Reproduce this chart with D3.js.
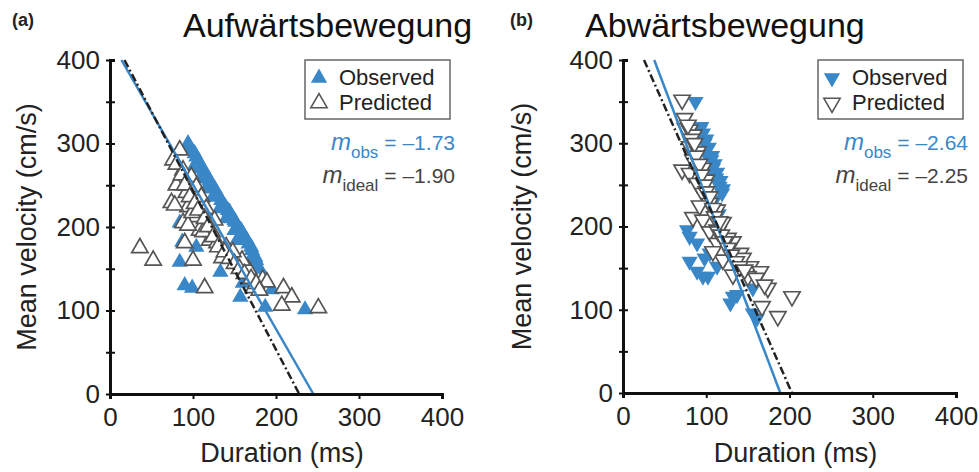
<!DOCTYPE html>
<html>
<head>
<meta charset="utf-8">
<script src="https://cdn.jsdelivr.net/npm/d3@7"></script>
<style>
  body { margin: 0; background: #fff; }
  text { font-family: "Liberation Sans", Arial, sans-serif; }
</style>
</head>
<body>
<div id="chart"></div>
<script>
"use strict";

// ---- data (duration ms, velocity cm/s) ----
var obsA_dur = [94, 98, 102, 106, 110, 114, 118, 122, 126, 130, 134, 139, 144, 147, 151, 155, 160, 163, 167, 171, 175,
  100, 108, 116, 124, 132, 140, 150, 84, 87, 84, 90, 99, 104, 133, 157, 160, 171, 187, 235, 153, 169, 195, 178, 112, 120,
  96, 104, 112, 120, 128, 136, 142, 150, 158, 165, 170, 176, 180];
var obsA_vel = [300, 292, 288, 280, 272, 266, 258, 252, 246, 238, 232, 224, 218, 212, 206, 198, 192, 186, 180, 172, 164,
  270, 258, 246, 236, 222, 210, 196, 205, 182, 158, 130, 127, 176, 146, 116, 133, 164, 104, 101, 184, 154, 125, 150, 200, 214,
  296, 284, 270, 256, 242, 228, 220, 208, 196, 184, 176, 160, 150];

var predA_dur = [84, 76, 88, 82, 92, 74, 94, 104, 108, 88, 120, 36, 52, 114, 209, 219, 207, 251, 184, 189, 173, 167, 159,
  135, 129, 123, 90, 94, 78, 99, 112, 98, 104, 110, 116, 126, 140, 148, 100, 80,
  80, 86, 90, 96, 102, 106, 114, 118, 124, 130, 138, 144, 150, 156, 162, 170, 176, 180];
var predA_vel = [292, 280, 268, 253, 241, 229, 224, 212, 196, 205, 184, 175, 160, 127, 127, 116, 106, 103, 137, 134, 127, 149, 160,
  163, 181, 194, 181, 202, 226, 217, 194, 260, 248, 236, 222, 208, 176, 170, 160, 250,
  275, 262, 250, 236, 228, 220, 210, 200, 188, 176, 170, 162, 156, 150, 144, 138, 132, 124];

var obsB_dur = [87, 92, 96, 100, 103, 107, 110, 113, 117, 120, 77, 80, 89, 80, 89, 96, 102, 98, 113, 129, 132, 137, 156, 161,
  156, 104, 98, 104, 110, 115, 94, 98, 106, 108, 112, 116, 119];
var obsB_vel = [350, 316, 312, 305, 295, 285, 275, 265, 255, 245, 196, 188, 180, 158, 146, 140, 140, 162, 152, 108, 116, 118, 126, 90,
  96, 168, 290, 262, 232, 215, 320, 300, 280, 270, 258, 248, 240];

var predB_dur = [71, 75, 80, 85, 80, 84, 71, 80, 96, 89, 96, 104, 113, 84, 96, 113, 104, 113, 132, 141, 132, 153, 165, 174,
  167, 186, 203, 144, 120, 114, 126, 90, 100, 92, 120, 108, 150,
  74, 78, 82, 86, 88, 92, 94, 98, 100, 104, 108, 110, 116, 118, 122, 126, 130, 136, 140, 146, 160, 170];
var predB_vel = [352, 318, 316, 310, 296, 280, 268, 264, 270, 252, 240, 228, 220, 211, 208, 196, 194, 180, 182, 168, 142, 152, 146, 126,
  104, 92, 116, 162, 160, 194, 186, 290, 256, 225, 205, 170, 140,
  330, 322, 305, 300, 285, 275, 262, 250, 242, 236, 222, 212, 206, 190, 182, 174, 166, 158, 152, 148, 138, 130];

// fitted lines: slope and duration at zero velocity
var panelNames = ["(a)", "(b)"];
var panelTitles = ["Aufwärtsbewegung", "Abwärtsbewegung"];
var slopeObs = [-1.73, -2.64];
var slopeIdeal = [-1.90, -2.25];
var zeroObs = [245, 189];
var zeroIdeal = [228, 203];
var slopeLabelObs = ["= \u20131.73", "= \u20132.64"];
var slopeLabelIdeal = ["= \u20131.90", "= \u20132.25"];

var axisTicks = [0, 100, 200, 300, 400];
var yMinorTicks = [0, 50, 100, 150, 200, 250, 300, 350, 400];

var blue = "#3a87c8";
var grey = "#555";

var svg = d3.select("#chart").append("svg")
  .attr("width", 979).attr("height", 472);

// panel placement (plot area in px)
var panels = [
  { left: 110, right: 442, top: 60, bottom: 394, up: true,
    obs: [obsA_dur, obsA_vel], pred: [predA_dur, predA_vel], legX: 305, ylab: 36 },
  { left: 623, right: 956, top: 60, bottom: 393, up: false,
    obs: [obsB_dur, obsB_vel], pred: [predB_dur, predB_vel], legX: 818, ylab: 531 }
];

var triUp = d3.symbol().type(d3.symbolTriangle).size(115);

panels.forEach(function (p, k) {
  var x = d3.scaleLinear().domain([0, 400]).range([p.left, p.right]);
  var y = d3.scaleLinear().domain([0, 400]).range([p.bottom, p.top]);
  var rot = p.up ? "" : " rotate(180)";
  var g = svg.append("g");

  // panel letter + title
  g.append("text").attr("x", k ? 510 : 12).attr("y", 26)
    .style("font-size", "18px").style("font-weight", "bold").style("fill", "#222")
    .text(panelNames[k]);
  g.append("text").attr("x", k ? 585 : 183).attr("y", 37)
    .style("font-size", "34px").style("fill", "#111")
    .text(panelTitles[k]);

  // observed (filled) then predicted (open)
  var obs = p.obs[0].map(function (d, i) { return [d, p.obs[1][i]]; });
  var pred = p.pred[0].map(function (d, i) { return [d, p.pred[1][i]]; });

  g.selectAll(".obs").data(obs).enter().append("path")
    .attr("d", triUp)
    .attr("transform", function (d) { return "translate(" + x(d[0]) + "," + y(d[1]) + ")" + rot; })
    .style("fill", blue);

  g.selectAll(".pred").data(pred).enter().append("path")
    .attr("d", triUp)
    .attr("transform", function (d) { return "translate(" + x(d[0]) + "," + y(d[1]) + ")" + rot; })
    .style("fill", "#fff").style("stroke", grey).style("stroke-width", 1.7);

  // fit lines, from v=400 down to v=0
  function fitLine(slope, zero) {
    var d400 = zero + 400 / slope;
    return [[d400, 400], [zero, 0]];
  }
  var line = d3.line().x(function (d) { return x(d[0]); }).y(function (d) { return y(d[1]); });
  g.append("path").attr("d", line(fitLine(slopeObs[k], zeroObs[k])))
    .style("stroke", blue).style("stroke-width", 2.5).style("fill", "none");
  g.append("path").attr("d", line(fitLine(slopeIdeal[k], zeroIdeal[k])))
    .style("stroke", "#222").style("stroke-width", 2.5).style("fill", "none")
    .style("stroke-dasharray", "8,3,2,3");

  // axes
  var xAxis = d3.axisBottom(x).tickValues(axisTicks).tickSize(5).tickPadding(9);
  var gx = g.append("g").attr("transform", "translate(0," + p.bottom + ")").call(xAxis);
  var yAxis = d3.axisLeft(y).tickValues(yMinorTicks).tickSize(-5).tickPadding(10)
    .tickFormat(function (d) { return d % 100 === 0 ? d : ""; });
  var gy = g.append("g").attr("transform", "translate(" + p.left + ",0)").call(yAxis);
  [gx, gy].forEach(function (a) {
    a.select(".domain").style("stroke", "#111").style("stroke-width", 3);
    a.selectAll(".tick line").style("stroke", "#111").style("stroke-width", 2);
    a.selectAll(".tick text").style("font-size", "26px").style("fill", "#222")
      .style("font-family", "Liberation Sans, Arial, sans-serif");
  });
  gy.selectAll(".tick").append("line").attr("x1", -4).attr("x2", 0)
    .style("stroke", "#111").style("stroke-width", 2);

  // axis labels
  g.append("text").attr("x", (p.left + p.right) / 2 + 6).attr("y", 462)
    .attr("text-anchor", "middle").style("font-size", "27px").style("fill", "#222")
    .text("Duration (ms)");
  g.append("text").attr("transform", "translate(" + p.ylab + "," + ((p.top + p.bottom) / 2) + ") rotate(-90)")
    .attr("text-anchor", "middle").style("font-size", "27px").style("fill", "#222")
    .text("Mean velocity (cm/s)");

  // legend
  var lx = p.legX;
  g.append("rect").attr("x", lx).attr("y", 60).attr("width", 145).attr("height", 59)
    .style("fill", "#fff").style("stroke", "#666").style("stroke-width", 1.5);
  g.append("path").attr("d", triUp).attr("transform", "translate(" + (lx + 14) + ",78)" + rot)
    .style("fill", blue);
  g.append("path").attr("d", triUp).attr("transform", "translate(" + (lx + 14) + ",103)" + rot)
    .style("fill", "#fff").style("stroke", grey).style("stroke-width", 1.6);
  g.append("text").attr("x", lx + 34).attr("y", 85).style("font-size", "22px").style("fill", "#222").text("Observed");
  g.append("text").attr("x", lx + 34).attr("y", 110).style("font-size", "22px").style("fill", "#222").text("Predicted");

  // slope annotations
  function slopeText(yb, sub, val, col) {
    var t = g.append("text").attr("x", lx + 150).attr("y", yb).attr("text-anchor", "end")
      .style("font-size", "21px").style("fill", col);
    t.append("tspan").style("font-style", "italic").style("font-size", "24px").text("m");
    t.append("tspan").attr("dy", 8).style("font-size", "17px").text(sub);
    t.append("tspan").attr("dy", -8).attr("dx", 6).text(val);
  }
  slopeText(150, "obs", slopeLabelObs[k], blue);
  slopeText(183, "ideal", slopeLabelIdeal[k], "#444");
});
</script>
</body>
</html>
